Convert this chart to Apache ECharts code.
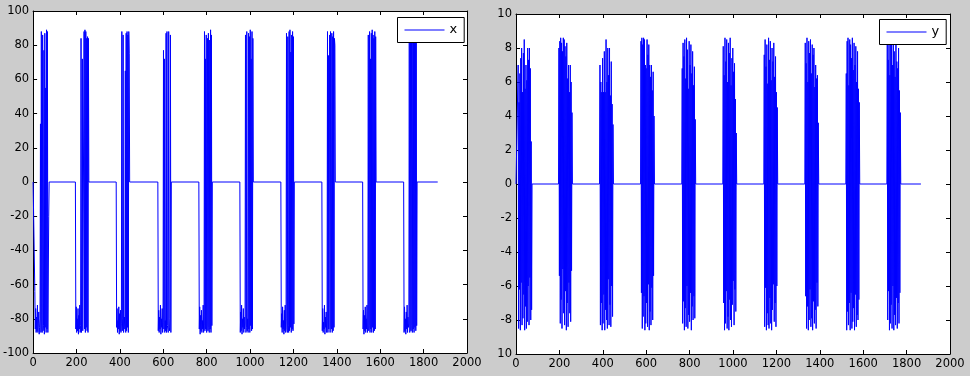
<!DOCTYPE html>
<html>
<head>
<meta charset="utf-8" />
<title>x / y</title>
<script src="https://cdn.jsdelivr.net/npm/echarts@6/dist/echarts.min.js"></script>
<style>
  html,
  body {
    margin: 0;
    padding: 0;
    background: #cccccc;
  }
  #chart01 {
    width: 970px;
    height: 376px;
  }
</style>
</head>
<body>
<div id="chart01"></div>
<script>
// sample index where each burst starts, samples are 2 apart inside a burst
const STEP = 2;
const xStarts = [6, 195, 383, 575, 764, 953, 1142, 1331, 1519, 1708];
const yStarts = [8, 196, 385, 574, 764, 953, 1142, 1331, 1520, 1709];
const xEnd = 1865;
const yEnd = 1866;

// x signal, one array per burst
const xBurst1 = [0, -64, -86, -74, -88, -79, -87, -72, -88, -83, -76, -89, -85, -80, 34, -88, 88, -86, -88, 86, -87, -84, 77, -89, 87, -85, 55, -88, 89, -86, 88, -88, -88, -20, 0];
const xBurst2 = [0, -86, -73, -88, -80, -87, -74, -89, -78, -86, -72, -88, -84, 84, -88, -80, 72, -87, -86, -88, 88, -86, 89, -88, 88, -85, 84, -87, 85, -88, 84, 0];
const xBurst3 = [0, -85, -74, -88, -81, -86, -73, -89, -77, -87, -75, -88, -83, 88, -87, -80, 86, -88, -84, -79, -86, 65, -88, 87, -87, 88, -85, 86, -88, 88, 75, 0];
const xBurst4 = [0, -87, -75, -88, -79, -86, -72, -89, -80, -85, -74, -88, -82, 77, -86, 72, -88, -81, -87, 87, -88, 88, -84, -86, -88, 88, -85, -87, -80, 86, -88, 0];
const xBurst5 = [0, -86, -73, -89, -78, -87, -75, -88, -81, -86, -72, -88, -84, 88, -87, 72, -86, 86, -88, -83, 84, -87, 87, -85, -88, 83, -86, 89, -88, 86, -84, 0];
const xBurst6 = [0, -88, -76, -87, -72, -89, -80, -85, -74, -88, -79, -86, -83, 86, -88, -85, 88, -87, -80, -88, 87, -86, 85, -88, 89, -84, 72, -87, 88, -86, 84, 0];
const xBurst7 = [0, -85, -77, -88, -73, -86, -81, -89, -75, -87, -72, -88, -80, 87, -86, -88, 85, -84, -88, 88, -87, 89, -85, 76, -88, 86, -86, 88, -87, 85, -83, 0];
const xBurst8 = [0, -87, -74, -88, -82, -86, -72, -89, -79, -85, -76, -88, -81, 88, -88, 74, -86, -87, 86, -88, 88, -84, -86, 87, -88, 85, -87, 88, -85, 84, 80, 0];
const xBurst9 = [0, -86, -75, -89, -78, -87, -73, -88, -80, -86, -72, -88, -85, 86, -87, -84, 88, -88, 72, -86, 87, -88, 89, -85, 86, -88, 84, -87, 88, -86, 85, 0];
const xBurst10 = [0, -88, -73, -87, -80, -89, -76, -86, -72, -88, -79, -85, -83, 87, -88, -86, 85, -87, 88, -84, -88, 86, -86, 89, -88, 84, -85, 88, -87, 86, -84, 0];

// y signal, one array per burst
const yBurst1 = [0, 7.0, -8.5, 4.8, -6.2, 6.5, -8.6, 7.4, -5.8, 8.0, -8.3, 5.4, -7.9, 7.7, -6.5, 8.5, -8.6, 5.6, -7.2, 7.0, -8.5, 6.1, -8.1, 8.0, -6.0, 7.3, -8.3, 8.0, -5.5, 6.8, -8.0, 2.5, -7.4, 0];
const yBurst2 = [0, 8.0, -5.4, 8.4, -8.2, 8.6, -6.8, 8.3, -8.5, 7.8, -5.0, 8.6, -7.6, 8.5, -8.3, 8.1, -6.3, 7.5, -8.6, 8.3, -7.0, 6.2, -8.4, 7.0, -5.8, 5.4, -7.6, 7.0, -8.1, 6.0, -5.1, 4.2, 0];
const yBurst3 = [0, 7.0, -8.3, 6.0, -7.0, 5.4, -8.6, 7.4, -8.2, 5.4, -6.5, 7.8, -8.6, 5.4, -7.4, 8.5, -8.0, 6.0, -8.5, 8.0, -5.6, 6.4, -8.3, 8.0, -7.1, 5.2, -8.4, 7.2, -6.0, 4.7, -7.8, 3.5, 0];
const yBurst4 = [0, 8.4, -6.4, 8.6, -8.5, 8.2, -7.8, 8.6, -6.6, 8.5, -8.6, 7.0, -8.2, 6.8, -7.0, 8.5, -8.4, 7.6, -5.9, 8.2, -8.6, 7.0, -7.5, 6.3, -8.3, 7.0, -6.1, 5.5, -8.0, 6.6, -5.4, 4.0, 0];
const yBurst5 = [0, 6.8, -8.2, 8.3, -6.9, 7.5, -8.6, 8.5, -7.3, 6.2, -8.4, 8.6, -6.0, 7.9, -8.5, 5.6, -7.7, 8.4, -8.1, 7.0, -6.4, 8.2, -8.6, 6.5, -7.2, 7.8, -8.0, 5.8, -6.6, 6.9, -7.9, 3.8, 0];
const yBurst6 = [0, 8.1, -7.0, 6.4, -8.6, 8.6, -8.2, 7.2, -6.3, 8.5, -8.5, 6.0, -7.8, 8.3, -8.6, 7.7, -6.8, 8.6, -8.0, 5.8, -8.4, 7.4, -7.1, 8.0, -5.7, 6.6, -8.3, 7.1, -6.2, 5.0, -7.5, 3.0, 0];
const yBurst7 = [0, 7.6, -8.4, 8.5, -6.1, 6.9, -8.6, 8.2, -7.6, 5.9, -8.3, 8.6, -8.5, 7.3, -6.7, 8.4, -8.2, 6.1, -8.6, 8.0, -7.4, 7.2, -5.9, 8.3, -8.1, 6.3, -7.0, 7.5, -8.4, 5.4, -6.0, 4.5, 0];
const yBurst8 = [0, 8.3, -6.6, 7.1, -8.5, 8.6, -7.2, 6.0, -8.6, 8.4, -8.0, 7.7, -6.2, 8.5, -8.4, 6.5, -7.9, 8.2, -8.6, 7.6, -6.9, 8.0, -8.2, 5.7, -7.4, 7.0, -8.5, 6.2, -5.8, 6.4, -7.2, 3.6, 0];
const yBurst9 = [0, 6.5, -8.6, 8.4, -7.5, 8.6, -8.3, 5.8, -7.0, 8.5, -8.6, 8.2, -6.4, 7.4, -8.5, 8.6, -8.1, 6.7, -7.3, 8.3, -8.6, 7.0, -6.5, 8.1, -8.4, 6.0, -7.7, 7.8, -8.0, 5.6, -6.8, 4.8, 0];
const yBurst10 = [0, 8.5, -8.0, 7.3, -6.3, 8.6, -8.6, 6.4, -8.2, 8.2, -7.1, 8.6, -8.5, 7.0, -6.0, 8.4, -8.6, 7.8, -7.7, 6.3, -8.3, 8.5, -6.7, 7.2, -8.5, 6.8, -7.0, 8.0, -8.2, 5.5, -6.4, 4.2, 0];

const xBursts = [xBurst1, xBurst2, xBurst3, xBurst4, xBurst5, xBurst6, xBurst7, xBurst8, xBurst9, xBurst10];
const yBursts = [yBurst1, yBurst2, yBurst3, yBurst4, yBurst5, yBurst6, yBurst7, yBurst8, yBurst9, yBurst10];

// tick labels of the right plot (the minus of the bottom one is cut off)
const yRightTickLabels = ["10", "-8", "-6", "-4", "-2", "0", "2", "4", "6", "8", "10"];

const FONT = "DejaVu Sans";
const BLUE = "#0000ff";

// join bursts into [sample, value] points, zero in between
function buildPoints(starts, bursts, end) {
  const pts = [[0, 0]];
  starts.forEach((s, k) => {
    bursts[k].forEach((v, i) => pts.push([s + i * STEP, v]));
  });
  pts.push([end, 0]);
  return pts;
}

function labelStyle(extra) {
  return Object.assign({ color: "#000", fontFamily: FONT, fontSize: 11.5, margin: 4, formatter: (v) => String(v) }, extra);
}

function axisBase(extra) {
  return Object.assign(
    {
      type: "value",
      axisLine: { show: true, onZero: false, lineStyle: { color: "#000", width: 1 } },
      axisTick: { show: true, inside: true, length: 4, lineStyle: { color: "#000" } },
      splitLine: { show: false },
      axisLabel: labelStyle({}),
    },
    extra
  );
}

// legend box with a short blue line, like the matlab one
function legendBox(name, left, top) {
  return {
    data: [{ name: name, icon: "path://M0,0L40,0L40,1L0,1Z", itemStyle: { color: BLUE } }],
    left: left,
    top: top,
    itemWidth: 40,
    itemHeight: 1,
    padding: [6, 7, 6, 7],
    backgroundColor: "#fff",
    borderColor: "#000",
    borderWidth: 1,
    borderRadius: 0,
    textStyle: { color: "#000", fontFamily: FONT, fontSize: 13 },
  };
}

function lineSeries(name, axisIndex, data) {
  return {
    name: name,
    type: "line",
    xAxisIndex: axisIndex,
    yAxisIndex: axisIndex,
    data: data,
    showSymbol: false,
    color: BLUE,
    itemStyle: { color: BLUE },
    lineStyle: { width: 1, color: BLUE },
    emphasis: { disabled: true },
    z: 2,
  };
}

function getChartOption() {
  const xr = { min: 0, max: 2000, interval: 200 };
  const hide = { axisLabel: { show: false } };
  return {
    animation: false,
    backgroundColor: "#cccccc",
    grid: [
      { left: 33, top: 11, width: 434, height: 342, backgroundColor: "#fff", show: true, borderWidth: 0 },
      { left: 516, top: 14, width: 434, height: 340, backgroundColor: "#fff", show: true, borderWidth: 0 },
    ],
    legend: [legendBox("x", 397.5, 17.5), legendBox("y", 879.5, 19.5)],
    xAxis: [
      axisBase(Object.assign({ gridIndex: 0, position: "bottom" }, xr)),
      axisBase(Object.assign({ gridIndex: 0, position: "top" }, xr, hide)),
      axisBase(Object.assign({ gridIndex: 1, position: "bottom" }, xr)),
      axisBase(Object.assign({ gridIndex: 1, position: "top" }, xr, hide)),
    ],
    yAxis: [
      axisBase({ gridIndex: 0, position: "left", min: -100, max: 100, interval: 20 }),
      axisBase({ gridIndex: 0, position: "right", min: -100, max: 100, interval: 20, axisLabel: { show: false } }),
      axisBase({
        gridIndex: 1,
        position: "left",
        min: -10,
        max: 10,
        interval: 2,
        axisLabel: labelStyle({ formatter: (v) => yRightTickLabels[Math.round((v + 10) / 2)] }),
      }),
      axisBase({ gridIndex: 1, position: "right", min: -10, max: 10, interval: 2, axisLabel: { show: false } }),
    ],
    series: [
      lineSeries("x", 0, buildPoints(xStarts, xBursts, xEnd)),
      // right plot uses axes 2 (bottom / left)
      lineSeries("y", 2, buildPoints(yStarts, yBursts, yEnd)),
    ],
  };
}

const chart = echarts.init(document.getElementById("chart01"));
chart.setOption(getChartOption());
</script>
</body>
</html>
